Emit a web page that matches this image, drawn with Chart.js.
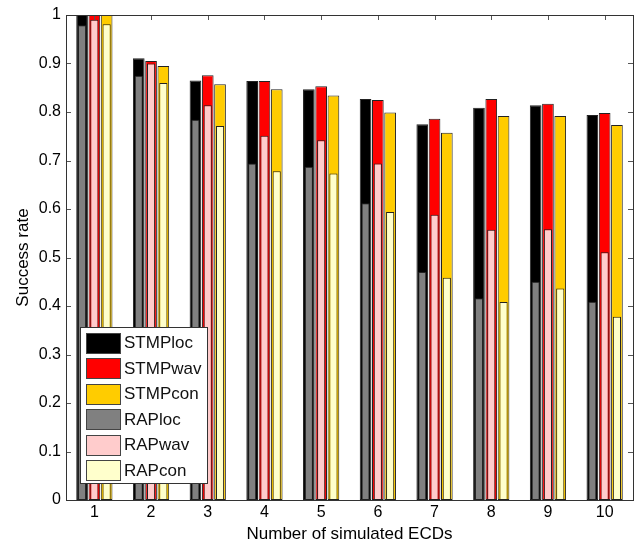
<!DOCTYPE html>
<html>
<head>
<meta charset="utf-8">
<script src="https://cdn.jsdelivr.net/npm/chart.js@4/dist/chart.umd.min.js"></script>
<style>
    html, body { margin: 0; padding: 0; background: #fff; }
</style>
</head>
<body>
<canvas id="myChart" width="638" height="541"></canvas>
<script>
// --- Дані ---
const categories = ['1', '2', '3', '4', '5', '6', '7', '8', '9', '10'];
const yTickLabels = ['0', '0.1', '0.2', '0.3', '0.4', '0.5', '0.6', '0.7', '0.8', '0.9', '1'];

const stmpLoc = [1.000, 0.911, 0.865, 0.864, 0.847, 0.827, 0.775, 0.809, 0.814, 0.794];
const stmpWav = [1.000, 0.905, 0.876, 0.864, 0.853, 0.825, 0.786, 0.827, 0.817, 0.798];
const stmpCon = [1.000, 0.895, 0.857, 0.847, 0.834, 0.799, 0.757, 0.792, 0.792, 0.773];
const rapLoc = [0.979, 0.875, 0.784, 0.694, 0.687, 0.612, 0.470, 0.416, 0.450, 0.409];
const rapWav = [0.990, 0.900, 0.814, 0.751, 0.742, 0.694, 0.588, 0.557, 0.558, 0.511];
const rapCon = [0.981, 0.860, 0.771, 0.678, 0.673, 0.594, 0.458, 0.408, 0.436, 0.378];

Chart.defaults.font.family = '"Liberation Sans", Arial, Helvetica, sans-serif';
Chart.defaults.color = '#000';

// STMP і RAP ділять ті самі три "стеки" (слоти), RAP вужчі й малюються поверх
function makeSet(label, data, color, slot, order, barPct) {
    return {
        label: label,
        data: data,
        backgroundColor: color,
        borderColor: '#222',
        borderWidth: 1,
        borderSkipped: false,
        stack: slot,
        order: order,
        categoryPercentage: 0.65,
        barPercentage: barPct
    };
}

// рамка і внутрішні риски (як у MATLAB)
const boxTicks = {
    id: 'boxTicks',
    beforeDatasetsDraw(chart) {
        const c = chart.ctx, a = chart.chartArea, x = chart.scales.x;
        c.save();
        c.strokeStyle = '#555';
        c.lineWidth = 1;
        c.beginPath();
        categories.forEach((cat, i) => {
            const px = Math.round(x.getPixelForValue(i)) + 0.5;
            c.moveTo(px, a.bottom); c.lineTo(px, a.bottom - 5);
        });
        c.stroke();
        c.restore();
    },
    afterDatasetsDraw(chart) {
        const c = chart.ctx, a = chart.chartArea, x = chart.scales.x, y = chart.scales.y;
        c.save();
        c.strokeStyle = '#555';
        c.lineWidth = 1;
        c.beginPath();
        categories.forEach((cat, i) => {
            const px = Math.round(x.getPixelForValue(i)) + 0.5;
            c.moveTo(px, a.top); c.lineTo(px, a.top + 5);
        });
        yTickLabels.forEach((t, i) => {
            const py = Math.round(y.getPixelForValue(i / 10)) + 0.5;
            c.moveTo(a.left, py); c.lineTo(a.left + 5, py);
            c.moveTo(a.right, py); c.lineTo(a.right - 5, py);
        });
        c.stroke();
        c.strokeStyle = '#333';
        c.strokeRect(Math.round(a.left) + 0.5, Math.round(a.top) + 0.5,
            Math.round(a.right - a.left), Math.round(a.bottom - a.top));
        c.restore();
    }
};

// легенда всередині графіка, внизу зліва
const legendBox = {
    id: 'legendBox',
    afterDraw(chart) {
        const c = chart.ctx;
        const bx = 80.5, by = 327.5, bw = 127, bh = 156;
        c.save();
        c.fillStyle = '#fff';
        c.fillRect(bx, by, bw, bh);
        c.strokeStyle = '#333';
        c.lineWidth = 1;
        c.strokeRect(bx, by, bw, bh);
        c.font = '17px "Liberation Sans", Arial, sans-serif';
        c.textBaseline = 'middle';
        chart.data.datasets.forEach((ds, i) => {
            const cy = 342.5 + i * 25.5;
            c.fillStyle = ds.backgroundColor;
            c.fillRect(86.5, Math.round(cy - 10) + 0.5, 34, 20);
            c.strokeStyle = '#444';
            c.strokeRect(86.5, Math.round(cy - 10) + 0.5, 34, 20);
            c.fillStyle = '#111';
            c.fillText(ds.label, 124, cy + 1);
        });
        c.restore();
    }
};

const myChart = new Chart(document.getElementById('myChart').getContext('2d'), {
    type: 'bar',
    data: {
        labels: categories,
        datasets: [
            makeSet('STMPloc', stmpLoc, '#000000', 'loc', 1, 0.95),
            makeSet('STMPwav', stmpWav, '#ff0000', 'wav', 1, 0.95),
            makeSet('STMPcon', stmpCon, '#ffcc00', 'con', 1, 0.95),
            makeSet('RAPloc', rapLoc, '#808080', 'loc', 0, 0.66),
            makeSet('RAPwav', rapWav, '#ffcccc', 'wav', 0, 0.66),
            makeSet('RAPcon', rapCon, '#ffffcc', 'con', 0, 0.66)
        ]
    },
    options: {
        responsive: false,
        animation: false,
        devicePixelRatio: 1,
        layout: { padding: { left: 0, right: 5, top: 15, bottom: 0 } },
        plugins: {
            legend: { display: false },
            tooltip: { enabled: false }
        },
        scales: {
            x: {
                type: 'category',
                offset: true,
                grid: { display: false, drawTicks: false },
                border: { display: false },
                ticks: { padding: 3, font: { size: 16 }, maxRotation: 0 },
                title: {
                    display: true,
                    text: 'Number of simulated ECDs',
                    font: { size: 17, lineHeight: 0.8 },
                    padding: { top: 0, bottom: 0 }
                },
                afterFit: (s) => { s.height = 41; }
            },
            y: {
                min: 0,
                max: 1,
                stacked: false, // значення не складаються, стеки лише для слотів
                grid: { display: false, drawTicks: false },
                border: { display: false },
                ticks: {
                    stepSize: 0.1,
                    padding: 5,
                    font: { size: 16 },
                    callback: (v, i) => yTickLabels[i]
                },
                title: {
                    display: true,
                    text: 'Success rate',
                    font: { size: 17 },
                    padding: { top: 13, bottom: 0 }
                },
                afterFit: (s) => { s.width = 66; }
            }
        }
    },
    plugins: [boxTicks, legendBox]
});
</script>
</body>
</html>
